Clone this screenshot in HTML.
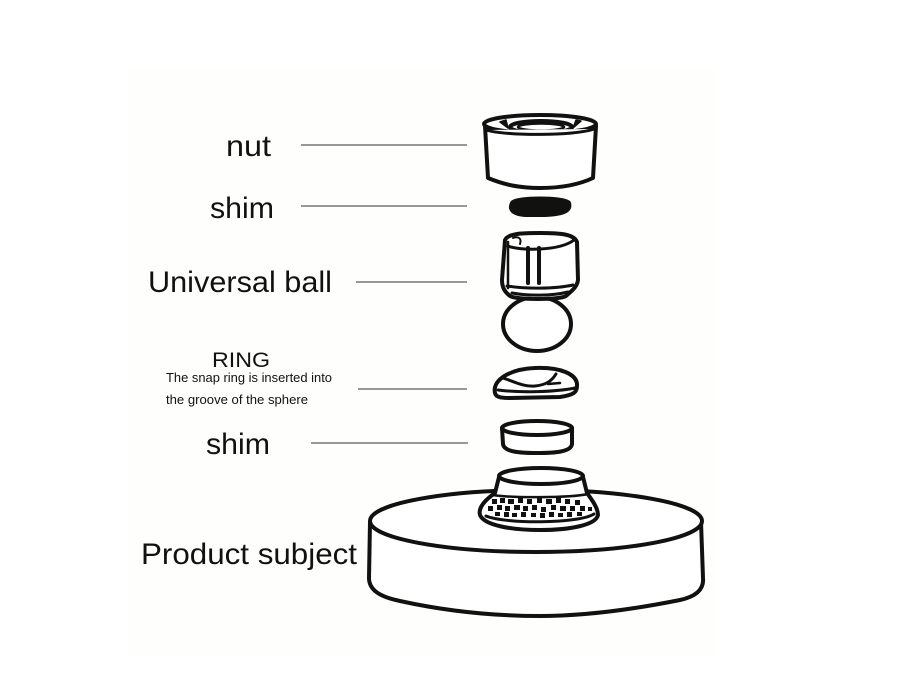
<!DOCTYPE html>
<html><head><meta charset="utf-8"><style>
html,body{margin:0;padding:0;background:#fff;}
svg{display:block;}
text{font-family:"Liberation Sans",sans-serif;fill:#111;}
</style></head><body>
<svg width="914" height="700" viewBox="0 0 914 700" xmlns="http://www.w3.org/2000/svg">
<rect x="0" y="0" width="914" height="700" fill="#ffffff"/>
<rect x="128" y="68" width="588" height="588" fill="#fefefc"/>

<!-- labels -->
<text x="226" y="156" font-size="30" textLength="45" lengthAdjust="spacingAndGlyphs">nut</text>
<text x="210" y="218" font-size="30" textLength="64" lengthAdjust="spacingAndGlyphs">shim</text>
<text x="148" y="292" font-size="30" textLength="184" lengthAdjust="spacingAndGlyphs">Universal ball</text>
<text x="212" y="367" font-size="21" textLength="58" lengthAdjust="spacingAndGlyphs">RING</text>
<text x="166" y="382" font-size="12.5" textLength="166" lengthAdjust="spacingAndGlyphs">The snap ring is inserted into</text>
<text x="166" y="404" font-size="12.5" textLength="142" lengthAdjust="spacingAndGlyphs">the groove of the sphere</text>
<text x="206" y="454" font-size="30" textLength="64" lengthAdjust="spacingAndGlyphs">shim</text>
<text x="141" y="564" font-size="30" textLength="216" lengthAdjust="spacingAndGlyphs">Product subject</text>

<!-- leader lines -->
<g stroke="#777" stroke-width="1.5">
<line x1="301" y1="145" x2="467" y2="145"/>
<line x1="301" y1="206" x2="467" y2="206"/>
<line x1="356" y1="282" x2="467" y2="282"/>
<line x1="358" y1="389" x2="467" y2="389"/>
<line x1="311" y1="443" x2="468" y2="443"/>
</g>

<g fill="#fff" stroke="#111" stroke-width="4" stroke-linejoin="round" stroke-linecap="round">
<!-- nut -->
<path d="M485,126 L488,178 C505,185 520,188 540,188 C560,188 578,185 593,178 L596,126"/>
<ellipse cx="540" cy="124" rx="56" ry="9"/>
<ellipse cx="541" cy="127" rx="31" ry="6"/>
<ellipse cx="541" cy="127" rx="23" ry="3.5" stroke-width="2.5"/>
<path d="M486,130 C505,136 575,136 594,129" stroke-width="3"/>
<path d="M500,122 L508,128 L506,120 Z" fill="#111" stroke-width="1.5"/>
<path d="M581,121 L573,128 L576,120 Z" fill="#111" stroke-width="1.5"/>

<!-- shim black -->
<path d="M512,203 C515,197 565,197 569,203 C571,210 566,214 545,215 L525,215 C512,214 509,209 512,203 Z" fill="#111"/>

<!-- ball -->
<ellipse cx="537" cy="324" rx="34" ry="27"/>
<!-- universal head -->
<path d="M505,240 C508,233 525,233 540,233 C560,233 574,234 577,242 L578,280 C577,288 570,292 566,296 C560,300 516,300 510,296 C505,292 502,288 502,280 Z"/>
<path d="M508,242 L508,288" stroke-width="2.5"/>
<path d="M508,246 C520,251 560,251 574,240" stroke-width="3"/>
<path d="M513,238 C518,236 522,238 520,244" stroke-width="2"/>
<line x1="528" y1="248" x2="528" y2="283"/>
<line x1="539" y1="248" x2="539" y2="283"/>
<path d="M507,286 C525,289 555,289 573,285" stroke-width="3"/>
<path d="M512,293 C528,296 552,296 568,292" stroke-width="3"/>

<!-- ring -->
<path d="M495,393 C492,380 510,369 535,368 C560,367 578,374 577,386 C577,392 574,395 560,397 L510,398 C500,398 496,397 495,393 Z"/>
<path d="M498,390 C520,393 555,392 575,388" stroke-width="3"/>
<path d="M503,378 C515,382 524,387 535,386 C545,385 551,382 556,374" stroke-width="3"/>
<path d="M548,384 L560,383" stroke-width="2.5"/>

<!-- shim 2 -->
<path d="M502,428 L503,444 C504,452 520,453 537,453 C555,453 571,452 572,444 L572,428"/>
<ellipse cx="537" cy="428" rx="35" ry="7"/>

<!-- base -->
<path d="M370,522 L369,578 C369,590 380,597 400,601 C450,612 500,616 540,616 C590,616 640,608 680,600 C698,596 704,588 703,578 L701,522"/>
<ellipse cx="536" cy="521" rx="166" ry="31"/>

<!-- knob -->
<path d="M499,477 L495,493 C485,500 478,508 480,515 C484,525 510,530 540,530 C570,530 596,525 598,515 C598,508 592,500 587,493 L583,477 Z"/>
<ellipse cx="541" cy="476" rx="42" ry="8"/>
<path d="M493,495 C510,498 570,498 588,494" stroke-width="2.5"/>
<path d="M486,516 C505,524 578,524 594,514" stroke-width="3"/>
</g>

<!-- checker pattern -->
<g fill="#111">
<rect x="492" y="499" width="5" height="5"/><rect x="500" y="498" width="5" height="5"/><rect x="508" y="499" width="6" height="5"/><rect x="518" y="498" width="5" height="5"/><rect x="527" y="499" width="5" height="5"/><rect x="537" y="498" width="5" height="5"/><rect x="546" y="499" width="6" height="5"/><rect x="556" y="498" width="5" height="5"/><rect x="565" y="499" width="5" height="5"/><rect x="575" y="500" width="5" height="5"/>
<rect x="488" y="506" width="5" height="5"/><rect x="497" y="505" width="5" height="5"/><rect x="505" y="506" width="5" height="5"/><rect x="514" y="505" width="6" height="5"/><rect x="523" y="506" width="5" height="5"/><rect x="532" y="505" width="5" height="5"/><rect x="541" y="507" width="5" height="5"/><rect x="551" y="505" width="5" height="5"/><rect x="560" y="506" width="6" height="5"/><rect x="570" y="506" width="5" height="5"/><rect x="580" y="506" width="5" height="5"/><rect x="588" y="507" width="4" height="4"/>
<rect x="495" y="512" width="5" height="4"/><rect x="504" y="512" width="5" height="5"/><rect x="512" y="513" width="5" height="4"/><rect x="521" y="512" width="5" height="5"/><rect x="531" y="513" width="5" height="4"/><rect x="540" y="513" width="5" height="5"/><rect x="549" y="512" width="5" height="5"/><rect x="558" y="513" width="5" height="4"/><rect x="567" y="512" width="5" height="5"/><rect x="577" y="512" width="5" height="4"/>
</g>
</svg>
</body></html>
